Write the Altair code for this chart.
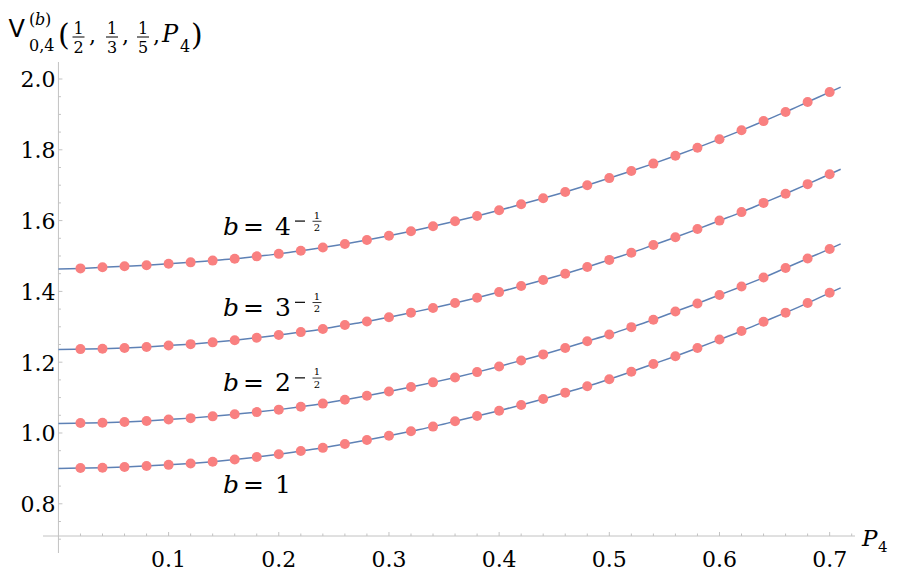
import altair as alt
import pandas as pd

# ---------------- data ----------------
P4 = [0.02, 0.04, 0.06, 0.08, 0.10, 0.12, 0.14, 0.16, 0.18, 0.20,
      0.22, 0.24, 0.26, 0.28, 0.30, 0.32, 0.34, 0.36, 0.38, 0.40,
      0.42, 0.44, 0.46, 0.48, 0.50, 0.52, 0.54, 0.56, 0.58, 0.60,
      0.62, 0.64, 0.66, 0.68, 0.70]

V_b4 = [1.465, 1.468, 1.471, 1.474, 1.478, 1.482, 1.487, 1.492, 1.499, 1.506,
        1.515, 1.524, 1.534, 1.545, 1.557, 1.570, 1.584, 1.598, 1.613, 1.629,
        1.646, 1.663, 1.681, 1.700, 1.720, 1.740, 1.761, 1.783, 1.806, 1.830,
        1.855, 1.881, 1.907, 1.935, 1.963]
V_b3 = [1.237, 1.238, 1.240, 1.243, 1.247, 1.251, 1.256, 1.262, 1.269, 1.277,
        1.285, 1.294, 1.305, 1.315, 1.327, 1.340, 1.353, 1.367, 1.382, 1.398,
        1.415, 1.432, 1.450, 1.469, 1.489, 1.509, 1.531, 1.553, 1.576, 1.600,
        1.624, 1.650, 1.676, 1.703, 1.731]
V_b2 = [1.028, 1.029, 1.031, 1.034, 1.038, 1.042, 1.047, 1.053, 1.059, 1.066,
        1.074, 1.083, 1.094, 1.105, 1.117, 1.130, 1.143, 1.157, 1.172, 1.188,
        1.205, 1.222, 1.240, 1.259, 1.278, 1.299, 1.320, 1.343, 1.366, 1.390,
        1.414, 1.439, 1.466, 1.493, 1.520]
V_b1 = [0.901, 0.902, 0.904, 0.907, 0.910, 0.914, 0.919, 0.925, 0.932, 0.940,
        0.949, 0.958, 0.969, 0.980, 0.992, 1.005, 1.018, 1.033, 1.048, 1.063,
        1.079, 1.096, 1.114, 1.132, 1.152, 1.173, 1.195, 1.217, 1.240, 1.264,
        1.288, 1.314, 1.340, 1.367, 1.396]

# curve (line) end values read at P4 = 0 and P4 = 0.71
LINE_ENDS_X = [0.0, 0.71]
END_b4 = [1.463, 1.977]
END_b3 = [1.236, 1.745]
END_b2 = [1.027, 1.534]
END_b1 = [0.900, 1.410]

SERIES = ["b4", "b3", "b2", "b1"]
LABEL_BASE = ["4", "3", "2", "1"]
LABEL_V = [1.5605, 1.331, 1.1176, 0.830]   # baseline height of each curve label
LABEL_EXP = [True, True, True, False]

X_MAJOR = [0.1, 0.2, 0.3, 0.4, 0.5, 0.6, 0.7]
X_MINOR = [0.02, 0.04, 0.06, 0.08, 0.12, 0.14, 0.16, 0.18, 0.22, 0.24, 0.26, 0.28,
           0.32, 0.34, 0.36, 0.38, 0.42, 0.44, 0.46, 0.48, 0.52, 0.54, 0.56, 0.58,
           0.62, 0.64, 0.66, 0.68, 0.72]
Y_MAJOR = [0.8, 1.0, 1.2, 1.4, 1.6, 1.8, 2.0]
Y_MINOR = [0.70, 0.75, 0.85, 0.90, 0.95, 1.05, 1.10, 1.15, 1.25, 1.30, 1.35,
           1.45, 1.50, 1.55, 1.65, 1.70, 1.75, 1.85, 1.90, 1.95]

X_DOMAIN = [-0.014, 0.723]
Y_DOMAIN = [0.661, 2.048]
X_AXIS_AT = 0.709   # where the horizontal axis crosses
Y_AXIS_AT = 0.0

# ---------------- styling ----------------
W, H = 812, 491
PAD_L, PAD_T, PAD_R, PAD_B = 35, 54, 37, 20
SERIF = "DejaVu Serif"
SANS = "DejaVu Sans"
AXIS_GRAY = "#c2c2c2"
LINE_BLUE = "#5E81B5"
DOT_RED = "#F98080"

xs = alt.Scale(domain=X_DOMAIN, nice=False, zero=False)
ys = alt.Scale(domain=Y_DOMAIN, nice=False, zero=False)

vals = {"b4": V_b4, "b3": V_b3, "b2": V_b2, "b1": V_b1}
ends = {"b4": END_b4, "b3": END_b3, "b2": END_b2, "b1": END_b1}

dots = pd.DataFrame([{"P": p, "V": v, "s": s} for s in SERIES for p, v in zip(P4, vals[s])])
line_rows = []
for s in SERIES:
    pts_ = list(zip(P4, vals[s])) + list(zip(LINE_ENDS_X, ends[s]))
    pts_.sort()
    line_rows += [{"P": p, "V": v, "s": s} for p, v in pts_]
lines = pd.DataFrame(line_rows)

ONE = pd.DataFrame({"a": [0]})


def page_y(v):
    return 8 + PAD_T + (Y_DOMAIN[1] - v) * H / (Y_DOMAIN[1] - Y_DOMAIN[0])


def px(x):
    return alt.value(x - PAD_L - 8)


def py(y):
    return alt.value(y - PAD_T - 8)


def T(s, x, y, size, style="normal", font=SERIF, align="left"):
    return alt.Chart(ONE).mark_text(
        text=s, fontSize=size, fontStyle=style, font=font, align=align,
        baseline="alphabetic", color="black", fontWeight="normal"
    ).encode(x=px(x), y=py(y))


def R(x1, x2, y, w=1.0):
    return alt.Chart(ONE).mark_rule(color="black", strokeWidth=w).encode(
        x=px(x1), x2=px(x2), y=py(y))


# ---------------- axes ----------------
axes_df = pd.DataFrame({"x1": [X_DOMAIN[0], Y_AXIS_AT], "x2": [X_DOMAIN[1], Y_AXIS_AT],
                        "y1": [X_AXIS_AT, Y_DOMAIN[0]], "y2": [X_AXIS_AT, Y_DOMAIN[1]]})
axes = alt.Chart(axes_df).mark_rule(color=AXIS_GRAY, strokeWidth=1).encode(
    x=alt.X("x1:Q", scale=xs, axis=None), x2="x2:Q",
    y=alt.Y("y1:Q", scale=ys, axis=None), y2="y2:Q")

xmaj_df = pd.DataFrame({"P": X_MAJOR, "A": [X_AXIS_AT] * len(X_MAJOR)})
xmin_df = pd.DataFrame({"P": X_MINOR, "A": [X_AXIS_AT] * len(X_MINOR)})
ymaj_df = pd.DataFrame({"V": Y_MAJOR, "A": [Y_AXIS_AT] * len(Y_MAJOR)})
ymin_df = pd.DataFrame({"V": Y_MINOR, "A": [Y_AXIS_AT] * len(Y_MINOR)})

xmaj = alt.Chart(xmaj_df).mark_rule(color=AXIS_GRAY, y2Offset=-4).encode(
    x=alt.X("P:Q", scale=xs, axis=None), y=alt.Y("A:Q", scale=ys, axis=None), y2="A:Q")
xmin = alt.Chart(xmin_df).mark_rule(color=AXIS_GRAY, y2Offset=-2.5).encode(
    x=alt.X("P:Q", scale=xs, axis=None), y=alt.Y("A:Q", scale=ys, axis=None), y2="A:Q")
ymaj = alt.Chart(ymaj_df).mark_rule(color=AXIS_GRAY, x2Offset=4).encode(
    y=alt.Y("V:Q", scale=ys, axis=None), x=alt.X("A:Q", scale=xs, axis=None), x2="A:Q")
ymin = alt.Chart(ymin_df).mark_rule(color=AXIS_GRAY, x2Offset=2.5).encode(
    y=alt.Y("V:Q", scale=ys, axis=None), x=alt.X("A:Q", scale=xs, axis=None), x2="A:Q")

xlab = alt.Chart(xmaj_df).mark_text(
    font=SERIF, fontSize=22, baseline="alphabetic", align="center", dy=31, color="black"
).encode(x=alt.X("P:Q", scale=xs, axis=None), y=alt.Y("A:Q", scale=ys, axis=None),
         text=alt.Text("P:Q", format=".1f"))
ylab = alt.Chart(ymaj_df).mark_text(
    font=SERIF, fontSize=22, baseline="alphabetic", align="right", dx=-3, dy=8.5, color="black"
).encode(y=alt.Y("V:Q", scale=ys, axis=None), x=alt.X("A:Q", scale=xs, axis=None),
         text=alt.Text("V:Q", format=".1f"))

# ---------------- data marks ----------------
curve = alt.Chart(lines).mark_line(color=LINE_BLUE, strokeWidth=1.5, interpolate="monotone").encode(
    x=alt.X("P:Q", scale=xs, axis=None), y=alt.Y("V:Q", scale=ys, axis=None), detail="s:N")
pts = alt.Chart(dots).mark_circle(color=DOT_RED, size=100, opacity=1).encode(
    x=alt.X("P:Q", scale=xs, axis=None), y=alt.Y("V:Q", scale=ys, axis=None))

# ---------------- annotations ----------------
ann = []
for digit, lv, expo in zip(LABEL_BASE, LABEL_V, LABEL_EXP):
    base = page_y(lv)
    ann += [T("b", 223, base, 25, "italic"), T("=", 243, base, 25), T(digit, 275, base, 25)]
    if expo:
        ann += [R(295, 305, base - 13.5, 1.2),
                T("1", 317, base - 16, 10, align="center"),
                R(312.5, 321.5, base - 13.3, 0.8),
                T("2", 317, base - 3.5, 10, align="center")]

# y-axis title  V^{(b)}_{0,4}(1/2, 1/3, 1/5, P_4)
DX, DY = 6, 5
ann += [T("V", 2.5 + DX, 32 + DY, 24, font=SANS),
        T("(", 23 + DX, 19.5 + DY, 16), T("b", 29 + DX, 19.5 + DY, 16, "italic"), T(")", 39 + DX, 19.5 + DY, 16),
        T("0,4", 23 + DX, 45.5 + DY, 16),
        T("(", 52 + DX, 40 + DY, 30)]
for cx, den, comma in [(72.5, "2", 83), (106, "3", 116), (137, "5", 147)]:
    ann += [T("1", cx + DX, 28.5 + DY, 16, align="center"), R(cx - 6 + DX, cx + 6 + DX, 32 + DY, 1.0),
            T(den, cx + DX, 48 + DY, 16, align="center"), T(",", comma + DX, 38 + DY, 22)]
ann += [T("P", 156 + DX, 37 + DY, 24, "italic"), T("4", 174 + DX, 46.5 + DY, 16),
        T(")", 185 + DX, 40 + DY, 30)]

# x-axis title P_4
xa = page_y(X_AXIS_AT)
ann += [T("P", 862, xa + 10, 23, "italic"), T("4", 878, xa + 16, 15)]

chart = alt.layer(axes, xmin, xmaj, ymin, ymaj, xlab, ylab, curve, pts, *ann).properties(
    width=W, height=H,
    autosize=alt.AutoSizeParams(type="none"),
    padding={"left": PAD_L, "top": PAD_T, "right": PAD_R, "bottom": PAD_B},
).configure_view(stroke=None)

chart.save("out.html", embed_options={"renderer": "svg", "actions": False})
